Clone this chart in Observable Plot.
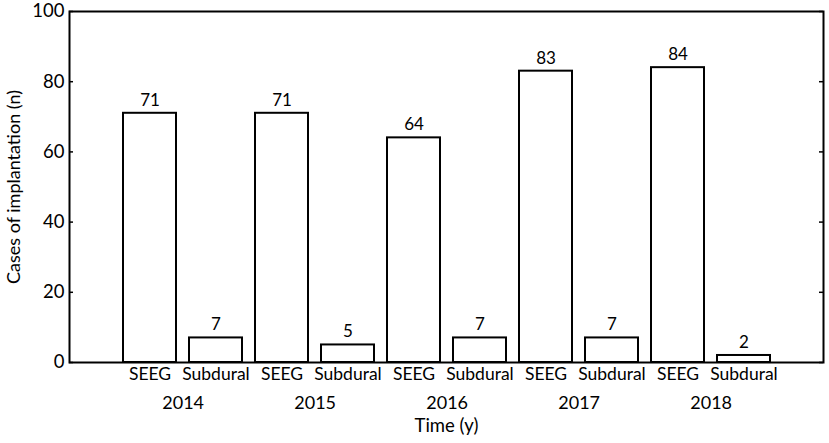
<!DOCTYPE html>
<html>
<head>
<meta charset="utf-8">
<script src="https://cdn.jsdelivr.net/npm/d3@7"></script>
<script src="https://cdn.jsdelivr.net/npm/@observablehq/plot@0.6"></script>
<style>
  html, body { margin: 0; padding: 0; background: white; }
  svg { display: block; }
</style>
</head>
<body>
<div id="chart"></div>
<script>
const years = ["2014", "2015", "2016", "2017", "2018"];
const methods = ["SEEG", "Subdural"];
const seeg = [71, 71, 64, 83, 84];
const subdural = [7, 5, 7, 7, 2];
const yTicks = [0, 20, 40, 60, 80, 100];
const xTitle = "Time (y)";
const yTitle = "Cases of implantation (n)";

const data = [];
years.forEach((yr, i) => {
  data.push({key: yr + " SEEG", year: yr, method: "SEEG", value: seeg[i]});
  data.push({key: yr + " Subdural", year: yr, method: "Subdural", value: subdural[i]});
});
const keys = data.map(d => d.key);

const W = 829, H = 443;
const mL = 69, mR = 6, mT = 11, mB = 81;
const plotW = W - mL - mR;
const FONT = "Lato, 'Open Sans', sans-serif";

const chart = Plot.plot({
  width: W,
  height: H,
  marginLeft: mL,
  marginRight: mR,
  marginTop: mT,
  marginBottom: mB,
  style: {fontFamily: FONT, background: "white", color: "black"},
  x: {domain: keys, paddingInner: 0.2, paddingOuter: 0.1, insetLeft: 46.4, insetRight: 44.6, axis: null},
  y: {domain: [0, 100], axis: null},
  marks: [
    Plot.barY(data, {x: "key", y: "value", fill: "white", stroke: "black", strokeWidth: 2}),
    Plot.text(data, {x: "key", y: "value", text: d => String(d.value), dy: -13, fontSize: 17, fill: "black"}),
    Plot.frame({stroke: "black", strokeWidth: 2}),
    Plot.ruleY(yTicks, {stroke: "black", strokeWidth: 1.5, insetRight: plotW - 4}),
    Plot.ruleY(yTicks, {stroke: "black", strokeWidth: 1.5, insetLeft: plotW - 4}),
    Plot.text(yTicks, {y: d => d, text: d => String(d), frameAnchor: "left", textAnchor: "end", dx: -5, fontSize: 18.5, fill: "black"}),
    Plot.text(data, {x: "key", text: "method", frameAnchor: "bottom", dy: 17, fontSize: 17.5, fill: "black"}),
    Plot.text(years, {x: d => d + " SEEG", text: d => d, frameAnchor: "bottom", dx: 33.15, dy: 46, fontSize: 18, fill: "black"}),
    Plot.text([xTitle], {text: d => d, frameAnchor: "bottom", dy: 69, fontSize: 18.5, fill: "black"}),
    Plot.text([yTitle], {text: d => d, frameAnchor: "left", textAnchor: "middle", rotate: -90, dx: -55, fontSize: 18, fill: "black"})
  ]
});
document.getElementById("chart").appendChild(chart);
</script>
</body>
</html>
